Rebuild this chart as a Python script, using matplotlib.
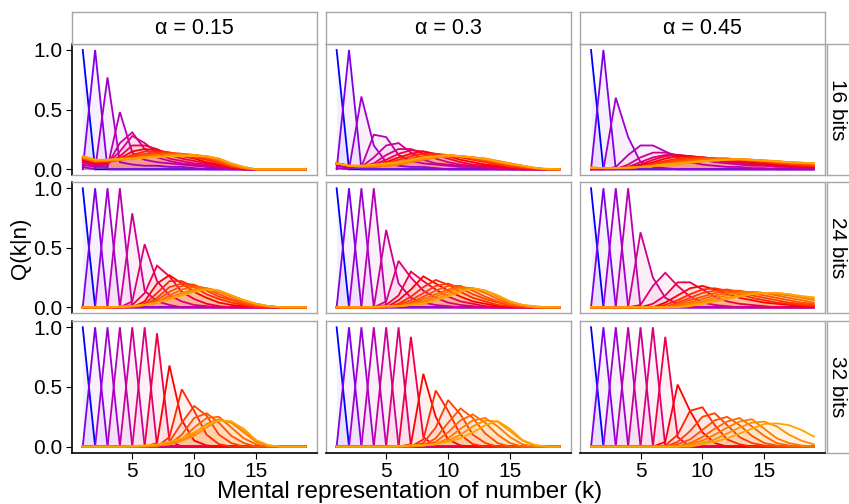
import numpy as np
import matplotlib
matplotlib.use('Agg')
from matplotlib import pyplot as plt

plt.rcParams['font.family'] = ['Liberation Sans', 'DejaVu Sans']

# mental representation values k
k_values = list(range(1, 20))
alpha_labels = ['α = 0.15', 'α = 0.3', 'α = 0.45']
bit_labels = ['16 bits', '24 bits', '32 bits']

# Q(k|n), one dict {k: Q} per n = 1..15 (missing k -> 0)
q16_a015 = [
    {1: 1.0},
    {2: 1.0},
    {1: 0.02, 3: 0.77, 4: 0.06, 5: 0.04, 6: 0.03, 7: 0.03, 8: 0.02, 9: 0.02, 10: 0.01},
    {1: 0.04, 2: 0.02, 3: 0.02, 4: 0.48, 5: 0.14, 6: 0.08, 7: 0.06, 8: 0.05, 9: 0.04, 10: 0.03, 11: 0.02, 12: 0.01},
    {1: 0.06, 2: 0.03, 3: 0.04, 4: 0.22, 5: 0.31, 6: 0.17, 7: 0.1, 8: 0.07, 9: 0.05, 10: 0.04, 11: 0.03, 12: 0.02, 13: 0.01},
    {1: 0.07, 2: 0.04, 3: 0.05, 4: 0.15, 5: 0.28, 6: 0.22, 7: 0.14, 8: 0.09, 9: 0.07, 10: 0.05, 11: 0.04, 12: 0.02, 13: 0.01},
    {1: 0.08, 2: 0.05, 3: 0.05, 4: 0.11, 5: 0.2, 6: 0.2, 7: 0.17, 8: 0.12, 9: 0.09, 10: 0.07, 11: 0.05, 12: 0.03, 13: 0.01},
    {1: 0.08, 2: 0.05, 3: 0.06, 4: 0.09, 5: 0.15, 6: 0.17, 7: 0.16, 8: 0.14, 9: 0.11, 10: 0.09, 11: 0.06, 12: 0.04, 13: 0.02},
    {1: 0.09, 2: 0.06, 3: 0.06, 4: 0.08, 5: 0.12, 6: 0.15, 7: 0.15, 8: 0.14, 9: 0.12, 10: 0.1, 11: 0.08, 12: 0.05, 13: 0.02, 14: 0.01},
    {1: 0.09, 2: 0.06, 3: 0.07, 4: 0.08, 5: 0.11, 6: 0.13, 7: 0.14, 8: 0.14, 9: 0.13, 10: 0.11, 11: 0.09, 12: 0.06, 13: 0.03, 14: 0.01},
    {1: 0.1, 2: 0.07, 3: 0.07, 4: 0.08, 5: 0.1, 6: 0.12, 7: 0.13, 8: 0.13, 9: 0.13, 10: 0.12, 11: 0.1, 12: 0.07, 13: 0.03, 14: 0.01},
    {1: 0.1, 2: 0.07, 3: 0.07, 4: 0.08, 5: 0.09, 6: 0.11, 7: 0.12, 8: 0.13, 9: 0.13, 10: 0.12, 11: 0.1, 12: 0.08, 13: 0.04, 14: 0.01},
    {1: 0.1, 2: 0.07, 3: 0.08, 4: 0.08, 5: 0.09, 6: 0.1, 7: 0.11, 8: 0.12, 9: 0.12, 10: 0.12, 11: 0.11, 12: 0.08, 13: 0.04, 14: 0.01},
    {1: 0.11, 2: 0.08, 3: 0.08, 4: 0.08, 5: 0.09, 6: 0.1, 7: 0.11, 8: 0.11, 9: 0.12, 10: 0.12, 11: 0.11, 12: 0.09, 13: 0.05, 14: 0.02},
    {1: 0.11, 2: 0.08, 3: 0.08, 4: 0.09, 5: 0.09, 6: 0.1, 7: 0.1, 8: 0.11, 9: 0.11, 10: 0.11, 11: 0.11, 12: 0.09, 13: 0.05, 14: 0.02},
]

q16_a030 = [
    {1: 1.0},
    {2: 1.0},
    {1: 0.01, 3: 0.61, 4: 0.2, 5: 0.06, 6: 0.03, 7: 0.02, 8: 0.02, 9: 0.01},
    {1: 0.03, 2: 0.01, 3: 0.02, 4: 0.29, 5: 0.27, 6: 0.12, 7: 0.07, 8: 0.05, 9: 0.04, 10: 0.03, 11: 0.02, 12: 0.02, 13: 0.01},
    {1: 0.04, 2: 0.02, 3: 0.02, 4: 0.1, 5: 0.2, 6: 0.22, 7: 0.14, 8: 0.08, 9: 0.05, 10: 0.04, 11: 0.03, 12: 0.02, 13: 0.02, 14: 0.01},
    {1: 0.05, 2: 0.03, 3: 0.02, 4: 0.05, 5: 0.12, 6: 0.17, 7: 0.17, 8: 0.13, 9: 0.09, 10: 0.06, 11: 0.04, 12: 0.03, 13: 0.02, 14: 0.01, 15: 0.01},
    {1: 0.05, 2: 0.03, 3: 0.02, 4: 0.04, 5: 0.08, 6: 0.13, 7: 0.16, 8: 0.15, 9: 0.12, 10: 0.09, 11: 0.06, 12: 0.04, 13: 0.03, 14: 0.02, 15: 0.01},
    {1: 0.05, 2: 0.03, 3: 0.02, 4: 0.03, 5: 0.06, 6: 0.1, 7: 0.13, 8: 0.15, 9: 0.13, 10: 0.11, 11: 0.08, 12: 0.06, 13: 0.04, 14: 0.03, 15: 0.02, 16: 0.01},
    {1: 0.05, 2: 0.03, 3: 0.02, 4: 0.03, 5: 0.05, 6: 0.08, 7: 0.11, 8: 0.13, 9: 0.13, 10: 0.12, 11: 0.1, 12: 0.08, 13: 0.06, 14: 0.04, 15: 0.02, 16: 0.01},
    {1: 0.05, 2: 0.03, 3: 0.02, 4: 0.02, 5: 0.04, 6: 0.06, 7: 0.09, 8: 0.11, 9: 0.12, 10: 0.12, 11: 0.11, 12: 0.09, 13: 0.07, 14: 0.05, 15: 0.03, 16: 0.02, 17: 0.01},
    {1: 0.05, 2: 0.03, 3: 0.02, 4: 0.02, 5: 0.03, 6: 0.05, 7: 0.08, 8: 0.1, 9: 0.11, 10: 0.12, 11: 0.11, 12: 0.1, 13: 0.08, 14: 0.06, 15: 0.04, 16: 0.02, 17: 0.01},
    {1: 0.05, 2: 0.03, 3: 0.02, 4: 0.02, 5: 0.03, 6: 0.04, 7: 0.07, 8: 0.09, 9: 0.1, 10: 0.11, 11: 0.11, 12: 0.1, 13: 0.08, 14: 0.06, 15: 0.04, 16: 0.03, 17: 0.01},
    {1: 0.05, 2: 0.03, 3: 0.03, 4: 0.03, 5: 0.03, 6: 0.04, 7: 0.06, 8: 0.08, 9: 0.1, 10: 0.11, 11: 0.11, 12: 0.1, 13: 0.09, 14: 0.07, 15: 0.05, 16: 0.03, 17: 0.01},
    {1: 0.05, 2: 0.03, 3: 0.03, 4: 0.03, 5: 0.04, 6: 0.05, 7: 0.07, 8: 0.09, 9: 0.1, 10: 0.11, 11: 0.11, 12: 0.1, 13: 0.09, 14: 0.07, 15: 0.05, 16: 0.03, 17: 0.01},
    {1: 0.05, 2: 0.03, 3: 0.03, 4: 0.04, 5: 0.05, 6: 0.06, 7: 0.08, 8: 0.1, 9: 0.11, 10: 0.12, 11: 0.11, 12: 0.1, 13: 0.087, 14: 0.065, 15: 0.045, 16: 0.03, 17: 0.014, 18: 0.005},
]

q16_a045 = [
    {1: 1.0},
    {2: 1.0},
    {3: 0.6, 4: 0.27, 5: 0.06, 6: 0.02, 7: 0.01},
    {3: 0.02, 4: 0.12, 5: 0.2, 6: 0.2, 7: 0.15, 8: 0.1, 9: 0.06, 10: 0.04, 11: 0.03, 12: 0.02, 13: 0.02, 14: 0.01, 15: 0.01},
    {4: 0.04, 5: 0.1, 6: 0.14, 7: 0.14, 8: 0.12, 9: 0.1, 10: 0.08, 11: 0.06, 12: 0.05, 13: 0.04, 14: 0.03, 15: 0.03, 16: 0.02, 17: 0.02, 18: 0.01, 19: 0.01},
    {4: 0.02, 5: 0.06, 6: 0.1, 7: 0.12, 8: 0.12, 9: 0.11, 10: 0.09, 11: 0.08, 12: 0.06, 13: 0.05, 14: 0.04, 15: 0.04, 16: 0.03, 17: 0.02, 18: 0.02, 19: 0.01},
    {1: 0.01, 2: 0.01, 3: 0.01, 4: 0.02, 5: 0.04, 6: 0.08, 7: 0.11, 8: 0.12, 9: 0.11, 10: 0.1, 11: 0.09, 12: 0.07, 13: 0.06, 14: 0.05, 15: 0.04, 16: 0.03, 17: 0.03, 18: 0.02, 19: 0.02},
    {1: 0.01, 2: 0.01, 3: 0.01, 4: 0.02, 5: 0.03, 6: 0.06, 7: 0.09, 8: 0.11, 9: 0.11, 10: 0.1, 11: 0.09, 12: 0.08, 13: 0.07, 14: 0.06, 15: 0.05, 16: 0.04, 17: 0.03, 18: 0.03, 19: 0.02},
    {1: 0.01, 2: 0.01, 3: 0.01, 4: 0.01, 5: 0.02, 6: 0.05, 7: 0.07, 8: 0.09, 9: 0.1, 10: 0.1, 11: 0.09, 12: 0.08, 13: 0.08, 14: 0.07, 15: 0.06, 16: 0.05, 17: 0.04, 18: 0.03, 19: 0.03},
    {1: 0.01, 2: 0.01, 3: 0.01, 4: 0.01, 5: 0.02, 6: 0.04, 7: 0.06, 8: 0.08, 9: 0.09, 10: 0.09, 11: 0.09, 12: 0.09, 13: 0.08, 14: 0.07, 15: 0.07, 16: 0.06, 17: 0.05, 18: 0.04, 19: 0.03},
    {1: 0.01, 2: 0.01, 3: 0.01, 4: 0.01, 5: 0.02, 6: 0.03, 7: 0.05, 8: 0.07, 9: 0.08, 10: 0.09, 11: 0.09, 12: 0.09, 13: 0.08, 14: 0.08, 15: 0.07, 16: 0.06, 17: 0.05, 18: 0.05, 19: 0.04},
    {1: 0.01, 2: 0.01, 3: 0.01, 4: 0.01, 5: 0.02, 6: 0.03, 7: 0.04, 8: 0.06, 9: 0.07, 10: 0.08, 11: 0.09, 12: 0.09, 13: 0.085, 14: 0.08, 15: 0.07, 16: 0.065, 17: 0.06, 18: 0.05, 19: 0.045},
    {1: 0.015, 2: 0.01, 3: 0.01, 4: 0.01, 5: 0.02, 6: 0.03, 7: 0.04, 8: 0.05, 9: 0.06, 10: 0.07, 11: 0.08, 12: 0.085, 13: 0.085, 14: 0.08, 15: 0.075, 16: 0.065, 17: 0.06, 18: 0.055, 19: 0.05},
    {1: 0.015, 2: 0.01, 3: 0.01, 4: 0.015, 5: 0.02, 6: 0.025, 7: 0.035, 8: 0.045, 9: 0.055, 10: 0.065, 11: 0.075, 12: 0.08, 13: 0.085, 14: 0.08, 15: 0.075, 16: 0.07, 17: 0.06, 18: 0.055, 19: 0.05},
    {1: 0.015, 2: 0.01, 3: 0.01, 4: 0.015, 5: 0.02, 6: 0.03, 7: 0.04, 8: 0.05, 9: 0.06, 10: 0.07, 11: 0.075, 12: 0.08, 13: 0.085, 14: 0.078, 15: 0.073, 16: 0.067, 17: 0.06, 18: 0.056, 19: 0.05},
]

q24_a015 = [
    {1: 1.0}, {2: 1.0}, {3: 1.0}, {4: 1.0},
    {5: 0.79, 6: 0.14, 7: 0.05, 8: 0.02},
    {5: 0.05, 6: 0.53, 7: 0.22, 8: 0.1, 9: 0.05, 10: 0.02, 11: 0.01},
    {5: 0.02, 6: 0.12, 7: 0.35, 8: 0.26, 9: 0.13, 10: 0.07, 11: 0.03, 12: 0.01},
    {6: 0.05, 7: 0.2, 8: 0.27, 9: 0.2, 10: 0.13, 11: 0.08, 12: 0.04, 13: 0.02, 14: 0.01},
    {6: 0.03, 7: 0.12, 8: 0.22, 9: 0.22, 10: 0.17, 11: 0.11, 12: 0.07, 13: 0.04, 14: 0.02},
    {6: 0.02, 7: 0.08, 8: 0.17, 9: 0.2, 10: 0.19, 11: 0.14, 12: 0.09, 13: 0.06, 14: 0.03, 15: 0.01},
    {5: 0.01, 6: 0.02, 7: 0.06, 8: 0.13, 9: 0.18, 10: 0.18, 11: 0.16, 12: 0.11, 13: 0.07, 14: 0.04, 15: 0.02, 16: 0.01},
    {5: 0.01, 6: 0.02, 7: 0.04, 8: 0.1, 9: 0.15, 10: 0.17, 11: 0.16, 12: 0.13, 13: 0.09, 14: 0.05, 15: 0.02, 16: 0.01},
    {4: 0.005, 5: 0.01, 6: 0.02, 7: 0.04, 8: 0.08, 9: 0.12, 10: 0.15, 11: 0.16, 12: 0.14, 13: 0.1, 14: 0.06, 15: 0.03, 16: 0.01},
    {4: 0.005, 5: 0.01, 6: 0.02, 7: 0.04, 8: 0.07, 9: 0.11, 10: 0.14, 11: 0.15, 12: 0.14, 13: 0.1, 14: 0.06, 15: 0.03, 16: 0.01},
    {4: 0.005, 5: 0.01, 6: 0.02, 7: 0.04, 8: 0.07, 9: 0.1, 10: 0.13, 11: 0.15, 12: 0.14, 13: 0.1, 14: 0.06, 15: 0.03, 16: 0.01},
]

q24_a030 = [
    {1: 1.0}, {2: 1.0}, {3: 1.0}, {4: 1.0},
    {5: 0.65, 6: 0.2, 7: 0.08, 8: 0.04, 9: 0.02, 10: 0.01},
    {5: 0.05, 6: 0.39, 7: 0.25, 8: 0.14, 9: 0.08, 10: 0.04, 11: 0.02, 12: 0.01},
    {5: 0.02, 6: 0.1, 7: 0.3, 8: 0.22, 9: 0.15, 10: 0.09, 11: 0.05, 12: 0.03, 13: 0.01},
    {6: 0.06, 7: 0.15, 8: 0.26, 9: 0.2, 10: 0.14, 11: 0.09, 12: 0.05, 13: 0.03, 14: 0.01},
    {6: 0.03, 7: 0.09, 8: 0.17, 9: 0.23, 10: 0.19, 11: 0.13, 12: 0.08, 13: 0.05, 14: 0.02, 15: 0.01},
    {6: 0.02, 7: 0.06, 8: 0.12, 9: 0.18, 10: 0.2, 11: 0.16, 12: 0.11, 13: 0.07, 14: 0.04, 15: 0.02, 16: 0.01},
    {6: 0.01, 7: 0.04, 8: 0.09, 9: 0.14, 10: 0.18, 11: 0.18, 12: 0.14, 13: 0.09, 14: 0.05, 15: 0.02, 16: 0.01},
    {6: 0.01, 7: 0.03, 8: 0.07, 9: 0.11, 10: 0.15, 11: 0.17, 12: 0.16, 13: 0.12, 14: 0.07, 15: 0.03, 16: 0.01},
    {5: 0.01, 6: 0.01, 7: 0.02, 8: 0.05, 9: 0.09, 10: 0.13, 11: 0.16, 12: 0.16, 13: 0.14, 14: 0.09, 15: 0.04, 16: 0.02},
    {5: 0.01, 6: 0.01, 7: 0.02, 8: 0.04, 9: 0.07, 10: 0.11, 11: 0.14, 12: 0.16, 13: 0.14, 14: 0.1, 15: 0.05, 16: 0.02, 17: 0.01},
    {4: 0.005, 5: 0.01, 6: 0.01, 7: 0.02, 8: 0.03, 9: 0.06, 10: 0.09, 11: 0.13, 12: 0.16, 13: 0.14, 14: 0.1, 15: 0.05, 16: 0.02, 17: 0.005},
]

q24_a045 = [
    {1: 1.0}, {2: 1.0}, {3: 1.0}, {4: 1.0},
    {5: 0.63, 6: 0.25, 7: 0.08, 8: 0.03, 9: 0.01},
    {5: 0.02, 6: 0.18, 7: 0.29, 8: 0.18, 9: 0.09, 10: 0.04, 11: 0.02, 12: 0.01},
    {6: 0.03, 7: 0.1, 8: 0.21, 9: 0.21, 10: 0.15, 11: 0.09, 12: 0.05, 13: 0.03, 14: 0.02, 15: 0.01},
    {7: 0.04, 8: 0.1, 9: 0.16, 10: 0.18, 11: 0.15, 12: 0.11, 13: 0.08, 14: 0.06, 15: 0.04, 16: 0.03, 17: 0.02, 18: 0.01, 19: 0.01},
    {7: 0.02, 8: 0.06, 9: 0.11, 10: 0.15, 11: 0.16, 12: 0.14, 13: 0.11, 14: 0.08, 15: 0.06, 16: 0.04, 17: 0.03, 18: 0.02, 19: 0.01},
    {8: 0.04, 9: 0.08, 10: 0.12, 11: 0.14, 12: 0.15, 13: 0.13, 14: 0.1, 15: 0.08, 16: 0.06, 17: 0.04, 18: 0.03, 19: 0.02},
    {8: 0.03, 9: 0.06, 10: 0.09, 11: 0.12, 12: 0.14, 13: 0.14, 14: 0.12, 15: 0.1, 16: 0.08, 17: 0.06, 18: 0.04, 19: 0.03},
    {8: 0.02, 9: 0.04, 10: 0.07, 11: 0.1, 12: 0.12, 13: 0.13, 14: 0.13, 15: 0.12, 16: 0.1, 17: 0.08, 18: 0.06, 19: 0.04},
    {8: 0.01, 9: 0.03, 10: 0.05, 11: 0.08, 12: 0.1, 13: 0.12, 14: 0.13, 15: 0.12, 16: 0.11, 17: 0.1, 18: 0.08, 19: 0.06},
    {9: 0.02, 10: 0.04, 11: 0.06, 12: 0.08, 13: 0.1, 14: 0.12, 15: 0.12, 16: 0.12, 17: 0.11, 18: 0.09, 19: 0.07},
    {9: 0.01, 10: 0.03, 11: 0.05, 12: 0.07, 13: 0.09, 14: 0.11, 15: 0.12, 16: 0.12, 17: 0.11, 18: 0.095, 19: 0.085},
]

q32_a015 = [
    {1: 1.0}, {2: 1.0}, {3: 1.0}, {4: 1.0}, {5: 1.0}, {6: 1.0},
    {7: 0.95, 8: 0.05},
    {7: 0.03, 8: 0.68, 9: 0.22, 10: 0.05, 11: 0.01},
    {8: 0.08, 9: 0.48, 10: 0.3, 11: 0.1, 12: 0.02},
    {8: 0.04, 9: 0.2, 10: 0.34, 11: 0.26, 12: 0.1, 13: 0.03},
    {7: 0.01, 8: 0.02, 9: 0.1, 10: 0.24, 11: 0.28, 12: 0.2, 13: 0.09, 14: 0.03},
    {7: 0.01, 8: 0.02, 9: 0.06, 10: 0.16, 11: 0.24, 12: 0.25, 13: 0.16, 14: 0.07, 15: 0.02},
    {6: 0.005, 7: 0.01, 8: 0.02, 9: 0.05, 10: 0.11, 11: 0.19, 12: 0.23, 13: 0.2, 14: 0.12, 15: 0.04, 16: 0.01},
    {6: 0.005, 7: 0.01, 8: 0.02, 9: 0.05, 10: 0.09, 11: 0.16, 12: 0.22, 13: 0.21, 14: 0.14, 15: 0.05, 16: 0.01},
    {5: 0.005, 6: 0.01, 7: 0.02, 8: 0.04, 9: 0.07, 10: 0.12, 11: 0.18, 12: 0.22, 13: 0.21, 14: 0.15, 15: 0.055, 16: 0.01},
]

q32_a030 = [
    {1: 1.0}, {2: 1.0}, {3: 1.0}, {4: 1.0}, {5: 1.0}, {6: 1.0},
    {7: 0.92, 8: 0.08},
    {7: 0.02, 8: 0.61, 9: 0.25, 10: 0.06, 11: 0.01},
    {8: 0.06, 9: 0.47, 10: 0.3, 11: 0.1, 12: 0.02},
    {8: 0.03, 9: 0.16, 10: 0.39, 11: 0.27, 12: 0.1, 13: 0.03},
    {8: 0.01, 9: 0.07, 10: 0.2, 11: 0.32, 12: 0.24, 13: 0.11, 14: 0.03},
    {8: 0.01, 9: 0.04, 10: 0.12, 11: 0.22, 12: 0.27, 13: 0.2, 14: 0.1, 15: 0.03},
    {7: 0.01, 8: 0.01, 9: 0.02, 10: 0.07, 11: 0.15, 12: 0.22, 13: 0.24, 14: 0.17, 15: 0.08, 16: 0.02},
    {7: 0.01, 8: 0.01, 9: 0.02, 10: 0.05, 11: 0.1, 12: 0.17, 13: 0.22, 14: 0.21, 15: 0.13, 16: 0.05, 17: 0.01},
    {6: 0.005, 7: 0.01, 8: 0.01, 9: 0.02, 10: 0.04, 11: 0.07, 12: 0.12, 13: 0.18, 14: 0.215, 15: 0.15, 16: 0.056, 17: 0.014},
]

q32_a045 = [
    {1: 1.0}, {2: 1.0}, {3: 1.0}, {4: 1.0}, {5: 1.0}, {6: 1.0},
    {7: 0.92, 8: 0.08},
    {7: 0.04, 8: 0.52, 9: 0.3, 10: 0.12, 11: 0.03},
    {7: 0.01, 8: 0.1, 9: 0.3, 10: 0.33, 11: 0.18, 12: 0.06, 13: 0.02},
    {8: 0.04, 9: 0.13, 10: 0.25, 11: 0.28, 12: 0.18, 13: 0.08, 14: 0.03, 15: 0.01},
    {8: 0.02, 9: 0.06, 10: 0.14, 11: 0.22, 12: 0.25, 13: 0.18, 14: 0.09, 15: 0.03, 16: 0.01},
    {9: 0.03, 10: 0.08, 11: 0.15, 12: 0.21, 13: 0.24, 14: 0.17, 15: 0.09, 16: 0.03, 17: 0.01},
    {9: 0.02, 10: 0.05, 11: 0.1, 12: 0.16, 13: 0.21, 14: 0.23, 15: 0.15, 16: 0.07, 17: 0.03, 18: 0.01},
    {9: 0.01, 10: 0.03, 11: 0.06, 12: 0.11, 13: 0.16, 14: 0.2, 15: 0.21, 16: 0.17, 17: 0.1, 18: 0.05, 19: 0.02},
    {10: 0.02, 11: 0.04, 12: 0.07, 13: 0.11, 14: 0.15, 15: 0.19, 16: 0.195, 17: 0.18, 18: 0.14, 19: 0.085},
]

panels = [
    [q16_a015, q16_a030, q16_a045],
    [q24_a015, q24_a030, q24_a045],
    [q32_a015, q32_a030, q32_a045],
]

# colour per n (blue -> purple -> red -> orange)
n_colors = ['#0000FF', '#8000E6', '#A000CC', '#B800B2', '#CC0096', '#DD0078', '#EE0048',
            '#FF0000', '#FF2800', '#FF3E00', '#FF5200', '#FF6600', '#FF7A00', '#FF8E00', '#FFA500']

W, H = 849, 504
fig = plt.figure(figsize=(W / 100, H / 100), dpi=100)


def px_axes(left, top, right, bottom):
    return fig.add_axes([left / W, 1 - bottom / H, (right - left) / W, (bottom - top) / H])


col_x = [(71.6, 316.8), (325.5, 570.7), (579.9, 824.9)]
row_y = [(44.0, 175.3), (182.3, 313.3), (321.3, 452.6)]
border_gray = '#a6a6a6'
k = np.array(k_values)

for r in range(3):
    for c in range(3):
        ax = px_axes(col_x[c][0], row_y[r][0], col_x[c][1], row_y[r][1])
        curves = panels[r][c]
        qs = []
        for d in curves:
            q = np.zeros(len(k))
            for kk, v in d.items():
                q[kk - 1] = v
            qs.append(q)
        for i, q in enumerate(qs):
            ax.fill_between(k, 0, q, color=n_colors[i], alpha=0.06, lw=0)
        for i, q in enumerate(qs):
            ax.plot(k, q, color=n_colors[i], lw=1.3, solid_joinstyle='miter')
        ax.set_xlim(0.1, 19.9)
        ax.set_ylim(-0.05, 1.05)
        for s in ax.spines.values():
            s.set_color(border_gray)
            s.set_linewidth(1.0)
        ax.set_xticks([5, 10, 15])
        ax.set_yticks([0, 0.5, 1.0])
        ax.tick_params(length=4, width=0.8, color='black', labelsize=15, pad=2.5)
        if c == 0:
            ax.spines['left'].set_color('black')
            ax.spines['left'].set_linewidth(1.2)
            ax.set_yticklabels(['0.0', '0.5', '1.0'])
        else:
            ax.tick_params(axis='y', left=False, labelleft=False)
        if r == 2:
            ax.spines['bottom'].set_color('black')
            ax.spines['bottom'].set_linewidth(1.2)
        else:
            ax.tick_params(axis='x', bottom=False, labelbottom=False)

# top strips
for c in range(3):
    sa = px_axes(col_x[c][0], 12, col_x[c][1], 44)
    sa.set_xticks([])
    sa.set_yticks([])
    for s in sa.spines.values():
        s.set_color(border_gray)
        s.set_linewidth(1.0)
    sa.text(0.5, 0.5, alpha_labels[c], ha='center', va='center', fontsize=15.5, transform=sa.transAxes)

# right strips
for r in range(3):
    sa = px_axes(827, row_y[r][0], 870, row_y[r][1])
    sa.set_xticks([])
    sa.set_yticks([])
    for s in sa.spines.values():
        s.set_color(border_gray)
        s.set_linewidth(1.0)
    sa.text(11 / 43, 0.5, bit_labels[r], ha='center', va='center', rotation=-90, fontsize=15,
            transform=sa.transAxes)

fig.text(410 / W, 1 - 492 / H, 'Mental representation of number (k)', ha='center', va='center', fontsize=17.5)
fig.text(20 / W, 1 - 248 / H, 'Q(k|n)', ha='center', va='center', rotation=90, fontsize=16)

plt.savefig('out.png', dpi=100)
